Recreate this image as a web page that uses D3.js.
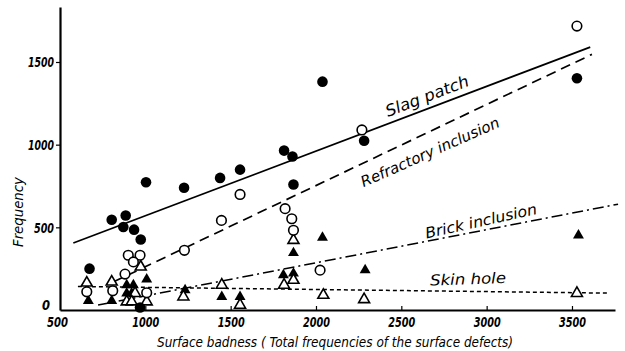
<!DOCTYPE html>
<html>
<head>
<meta charset="utf-8">
<script src="https://cdn.jsdelivr.net/npm/d3@7"></script>
<style>
  body { margin: 0; background: #fff; }
  text { font-family: "DejaVu Sans Condensed", "DejaVu Sans", sans-serif; font-style: italic; fill: #000; }
</style>
</head>
<body>
<div id="chart"></div>
<script>
// values: [surface badness, frequency]
const slagPatch = [[673,250],[803,546],[885,572],[871,502],[934,486],[973,426],[1004,773],[1227,739],
  [1438,799],[1555,849],[2038,1381],[1813,964],[1862,928],[1868,759],[2282,1024],[3529,1402],[969,15]]
const refractory = [[900,331],[969,331],[930,291],[881,217],[1229,361],[1446,542],[1555,699],[1819,613],
  [1858,552],[1868,482],[2269,1089],[3529,1717],[2024,241],[657,110],[809,116],[1008,104]]
const skinHole = [[657,164],[803,170],[973,261],[940,101],[891,50],[920,50],[1008,50],[1223,80],
  [1448,151],[1555,30],[1868,422],[1813,151],[1868,181],[2043,90],[2282,64],[3529,101]]
const brick = [[666,56],[803,56],[891,151],[930,151],[891,101],[920,101],[1008,185],[1233,120],
  [1448,80],[1555,80],[1868,345],[2038,438],[1809,211],[1868,221],[2288,241],[3538,452]]

// fitted lines (end points)
const slagFit = [[578,405],[3607,1590]]
const refractoryFit = [[811,169],[3617,1546]]
const brickFit = [[723,30],[3770,640]]
const skinFit = [[605,142],[3720,102]]

const xTicks = [500,1000,1500,2000,2500,3000,3500]
const yTicks = [0,500,1000,1500]

const margin = {top: 7, right: 10, bottom: 41, left: 60},
  width = 625 - margin.left - margin.right,
  height = 351 - margin.top - margin.bottom;

const svg = d3.select("#chart")
  .append("svg")
  .attr("width", 625)
  .attr("height", 351)
  .append("g")
  .attr("transform", `translate(${margin.left}, ${margin.top})`);

const x = d3.scaleLinear().domain([500, 500 + width / 85.33 * 500]).range([0, width])
const y = d3.scaleLinear().domain([0, height / 82.67 * 500]).range([height, 0])

// axes
const xAxis = svg.append("g")
  .attr("transform", `translate(0, ${height})`)
  .call(d3.axisBottom(x).tickValues(xTicks).tickFormat(d3.format("d"))
    .tickSize(-4).tickSizeOuter(0).tickPadding(5))
xAxis.select(".domain").attr("stroke", "#000").attr("stroke-width", 2.2)
xAxis.selectAll(".tick line").attr("stroke", "#000").attr("stroke-width", 1.2)
xAxis.selectAll(".tick").filter(d => d == 500).select("line").remove()
xAxis.selectAll(".tick text")
  .style("font-size", "14px").style("font-weight", 600)
  .attr("textLength", d => d == 500 ? 21 : 27).attr("lengthAdjust", "spacingAndGlyphs")
  .attr("dy", "0.85em")
  .attr("x", d => d == 500 ? -3 : 0)

const yAxis = svg.append("g")
  .call(d3.axisLeft(y).tickValues(yTicks).tickFormat(d3.format("d"))
    .tickSize(4).tickSizeOuter(0).tickPadding(2))
yAxis.select(".domain").attr("stroke", "#000").attr("stroke-width", 2.2)
yAxis.selectAll(".tick line").attr("stroke", "#000").attr("stroke-width", 1.2)
yAxis.selectAll(".tick").filter(d => d == 0).select("line").remove()
yAxis.selectAll(".tick text")
  .style("font-size", "14px").style("font-weight", 600)
  .attr("textLength", d => d == 0 ? 8 : d == 500 ? 20 : 26).attr("lengthAdjust", "spacingAndGlyphs")
  .attr("x", d => d == 0 ? -10 : -6)
  .attr("dy", d => d == 0 ? "-0.05em" : "0.35em")

// fitted lines
const line = d3.line().x(d => x(d[0])).y(d => y(d[1]))
svg.append("path").datum(slagFit).attr("d", line)
  .attr("fill", "none").attr("stroke", "#000").attr("stroke-width", 1.7)
svg.append("path").datum(refractoryFit).attr("d", line)
  .attr("fill", "none").attr("stroke", "#000").attr("stroke-width", 1.7).attr("stroke-dasharray", "10,6")
svg.append("path").datum(brickFit).attr("d", line)
  .attr("fill", "none").attr("stroke", "#000").attr("stroke-width", 1.6).attr("stroke-dasharray", "11,4,2,4")
svg.append("path").datum(skinFit).attr("d", line)
  .attr("fill", "none").attr("stroke", "#000").attr("stroke-width", 1.5).attr("stroke-dasharray", "4,3")

// points
const tri = d3.symbol(d3.symbolTriangle, 52)

svg.selectAll(".brick").data(brick).join("path")
  .attr("d", tri).attr("transform", d => `translate(${x(d[0])}, ${y(d[1])})`)
  .attr("fill", "#000")
svg.selectAll(".skin").data(skinHole).join("path")
  .attr("d", tri).attr("transform", d => `translate(${x(d[0])}, ${y(d[1])})`)
  .attr("fill", "#fff").attr("stroke", "#000").attr("stroke-width", 1.6)
svg.selectAll(".refr").data(refractory).join("circle")
  .attr("cx", d => x(d[0])).attr("cy", d => y(d[1])).attr("r", 4.8)
  .attr("fill", "#fff").attr("stroke", "#000").attr("stroke-width", 1.6)
svg.selectAll(".slag").data(slagPatch).join("circle")
  .attr("cx", d => x(d[0])).attr("cy", d => y(d[1])).attr("r", 5.3)
  .attr("fill", "#000")

// line labels
const label = (t, px, py, angle, size, len) => svg.append("text")
  .attr("transform", `translate(${px - margin.left}, ${py - margin.top}) rotate(${angle})`)
  .attr("text-anchor", "middle").attr("dy", "0.35em")
  .attr("textLength", len).attr("lengthAdjust", "spacingAndGlyphs")
  .style("font-size", size + "px")
  .text(t)
label("Slag patch", 427, 96, -21, 16, 88)
label("Refractory inclusion", 430, 152, -24, 15, 150)
label("Brick inclusion", 481, 221, -12.5, 15, 114)
label("Skin hole", 468, 279, -2, 15, 76)

// axis titles
svg.append("text")
  .attr("transform", `translate(${18 - margin.left}, ${212 - margin.top}) rotate(-90)`)
  .attr("text-anchor", "middle").attr("dy", "0.35em")
  .attr("textLength", 70).attr("lengthAdjust", "spacingAndGlyphs")
  .style("font-size", "14px")
  .text("Frequency")

svg.append("text")
  .attr("x", 335 - margin.left).attr("y", 342 - margin.top)
  .attr("text-anchor", "middle").attr("dy", "0.35em")
  .attr("textLength", 356).attr("lengthAdjust", "spacingAndGlyphs")
  .style("font-size", "14px")
  .text("Surface badness ( Total frequencies of the surface defects)")
</script>
</body>
</html>
